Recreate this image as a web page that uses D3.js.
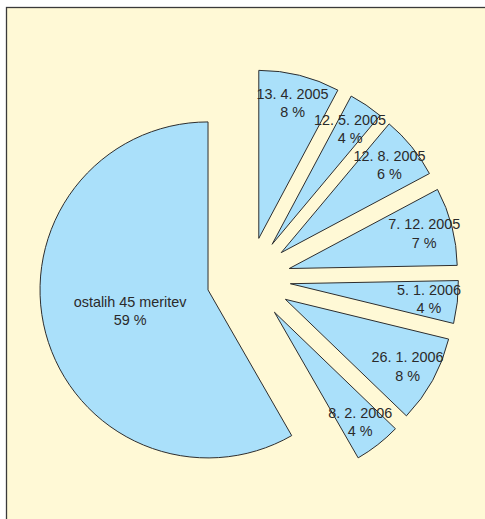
<!DOCTYPE html>
<html>
<head>
<meta charset="utf-8">
<script src="https://cdn.jsdelivr.net/npm/d3@7"></script>
<style>
  html, body { margin: 0; padding: 0; background: #ffffff; }
  svg { display: block; }
</style>
</head>
<body>
<svg id="chart" width="485" height="519"></svg>
<script>
// ---- data ----
const categories = ["13. 4. 2005", "12. 5. 2005", "12. 8. 2005", "7. 12. 2005", "5. 1. 2006", "26. 1. 2006", "8. 2. 2006", "ostalih 45 meritev"];
const shares = [7.8, 3.3, 6.1, 7.5, 4.1, 8.4, 4.5, 58.3];
const pctLabels = ["8 %", "4 %", "6 %", "7 %", "4 %", "8 %", "4 %", "59 %"];

// ---- layout ----
const W = 485, H = 519;
const cx = 248.6, cy = 279.1;   // pie centre (before explosion)
const R = 168;                   // radius
const explode = 42;              // explosion distance
const fill = "#aae0fa";
const bg = "#fff9d6";

const svg = d3.select("#chart");

// chart area background + frame
svg.append("rect")
  .attr("x", 6.5).attr("y", 7.5)
  .attr("width", W + 10).attr("height", H + 10)
  .attr("fill", bg)
  .attr("stroke", "#3a3a3a")
  .attr("stroke-width", 1.3);

const data = categories.map((c, i) => ({ name: c, v: shares[i], pct: pctLabels[i] }));

const pie = d3.pie().sort(null).value(d => d.v).startAngle(0).endAngle(2 * Math.PI);
const arc = d3.arc().innerRadius(0).outerRadius(R);
const arcs = pie(data);

const g = svg.append("g").attr("transform", `translate(${cx},${cy})`);

const slices = g.selectAll("g.slice")
  .data(arcs)
  .join("g")
  .attr("class", "slice")
  .attr("transform", d => {
    const m = (d.startAngle + d.endAngle) / 2;
    return `translate(${explode * Math.sin(m)},${-explode * Math.cos(m)})`;
  });

slices.append("path")
  .attr("d", arc)
  .attr("fill", fill)
  .attr("stroke", "#2e2e2e")
  .attr("stroke-width", 1)
  .attr("stroke-linejoin", "miter");

// labels
const lineGap = 18.3;
slices.each(function(d) {
  const m = (d.startAngle + d.endAngle) / 2;
  const share = d.data.v;
  const t = share > 30 ? R * 0.48 : R * 0.83;
  const lx = t * Math.sin(m), ly = -t * Math.cos(m);
  const txt = d3.select(this).append("text")
    .attr("text-anchor", "middle")
    .attr("font-family", "'Liberation Sans', Arial, Helvetica, sans-serif")
    .attr("font-size", 14.4)
    .attr("fill", "#2a2a2a");
  txt.append("tspan").attr("x", lx).attr("y", ly - 4.2).text(d.data.name);
  txt.append("tspan").attr("x", lx).attr("y", ly - 4.2 + lineGap).text(d.data.pct);
});
</script>
</body>
</html>
